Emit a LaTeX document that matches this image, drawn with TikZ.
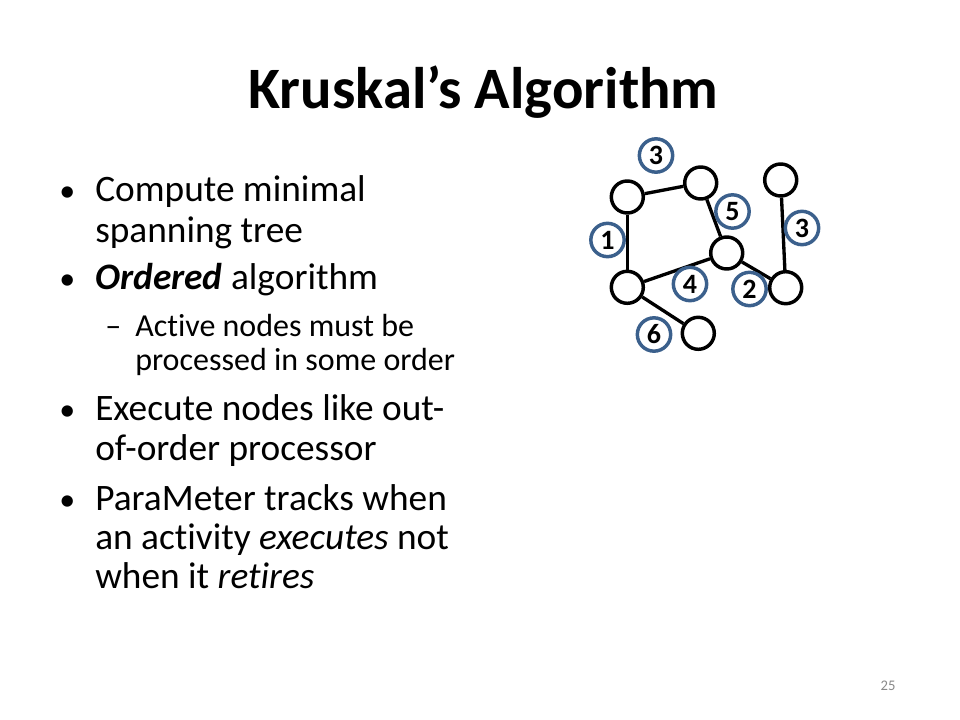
\documentclass[tikz,border=0pt]{standalone}
\usepackage{fontspec}
\setmainfont[Ligatures=NoCommon]{Carlito}
\definecolor{ringblue}{RGB}{59,96,140}
\definecolor{pagegray}{RGB}{137,137,137}
\begin{document}
\begin{tikzpicture}[x=0.75pt,y=-0.75pt,
  vert/.style={circle,draw=black,line width=2.6pt,fill=white,minimum size=24pt,inner sep=0pt},
  wlabel/.style={circle,draw=ringblue,line width=2.6pt,fill=white,minimum size=25pt,inner sep=0pt,font=\fontsize{21}{22}\selectfont\bfseries},
  edge/.style={line width=2.5pt,draw=black},
  bodyline/.style={anchor=base west,inner sep=0pt,font=\fontsize{28}{30}\selectfont},
  subline/.style={anchor=base west,inner sep=0pt,font=\fontsize{24}{25}\selectfont},
  bul/.style={anchor=base west,inner sep=0pt,font=\fontsize{24}{30}\selectfont}
]
\useasboundingbox[fill=white] (0,0) rectangle (960,720);

% title
\node[anchor=base,inner sep=0pt,font=\fontsize{44}{50}\selectfont\bfseries] (title) at (483.5,109) {Kruskal’s Algorithm};

% bullets
\node[bul] (b1) at (59,201.7) {•};
\node[bodyline] (t1a) at (95,201.7) {Compute minimal};
\node[bodyline] (t1b) at (95,242.7) {spanning tree};
\node[bul] (b2) at (59,290) {•};
\node[bodyline] (t2a) at (95,290) {\textbf{\textit{Ordered}} algorithm};
\node[subline] (d1) at (105,336.7) {–};
\node[subline] (s1a) at (135,336.7) {Active nodes must be};
\node[subline] (s1b) at (135,370) {processed in some order};
\node[bul] (b3) at (59,420) {•};
\node[bodyline] (t3a) at (95,420) {Execute nodes like out-};
\node[bodyline] (t3b) at (95,460) {of-order processor};
\node[bul] (b4) at (59,510) {•};
\node[bodyline] (t4a) at (95,510) {ParaMeter tracks when};
\node[bodyline] (t4b) at (95,549) {an activity \textit{executes} not};
\node[bodyline] (t4c) at (95,588.5) {when it \textit{retires}};

% page number
\node[anchor=center,inner sep=0pt,text=pagegray,font=\fontsize{11}{12}\selectfont] (pg) at (888,686) {25};

% graph vertices
\node[vert] (A) at (627.3,197) {};
\node[vert] (B) at (700.7,183) {};
\node[vert] (C) at (780.7,180) {};
\node[vert] (D) at (726.7,253) {};
\node[vert] (E) at (627.3,287.3) {};
\node[vert] (F) at (785.7,287.7) {};
\node[vert] (G) at (698.3,333.3) {};

% edges
\draw[edge] (A) -- (B);
\draw[edge] (A) -- (E);
\draw[edge] (B) -- (D);
\draw[edge] (D) -- (E);
\draw[edge] (D) -- (F);
\draw[edge] (C) -- (F);
\draw[edge] (E) -- (G);

% weights
\node[wlabel] (w3a) at (656,155.5) {3};
\node[wlabel] (w5) at (732.5,211.5) {5};
\node[wlabel] (w1) at (607.5,240) {1};
\node[wlabel] (w3b) at (802,228) {3};
\node[wlabel] (w4) at (690,284) {4};
\node[wlabel] (w2) at (749.5,289) {2};
\node[wlabel] (w6) at (654,334.5) {6};
\end{tikzpicture}
\end{document}
